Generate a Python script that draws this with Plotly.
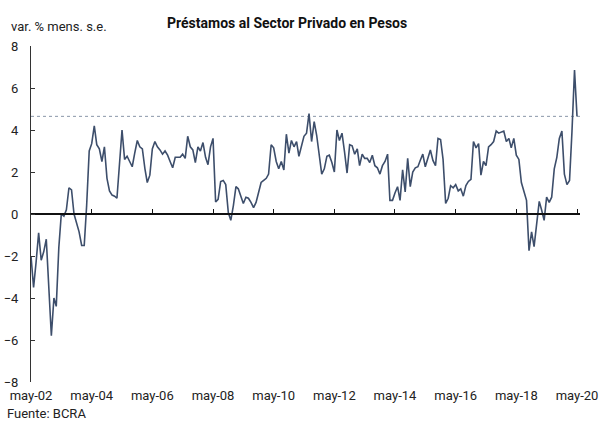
import plotly.graph_objects as go
import pandas as pd

# Monthly % change (s.a.), May-2002 .. May-2020
values = [
    -2.0, -3.5, -2.3, -0.9, -2.2, -1.8, -1.2, -3.4, -5.8, -4.0,
    -4.4, -1.6, 0.0, -0.1, 0.2, 1.25, 1.15, 0.0, -0.4, -0.85,
    -1.5, -1.5, 0.4, 3.0, 3.35, 4.2, 3.3, 3.1, 2.5, 3.2,
    1.7, 1.1, 0.9, 0.85, 0.75, 2.4, 4.0, 2.6, 2.75, 2.5,
    2.25, 2.9, 3.5, 3.2, 3.1, 2.15, 1.5, 1.85, 3.1, 3.45,
    3.2, 3.05, 2.85, 3.0, 2.8, 2.5, 2.2, 2.7, 2.7, 2.7,
    2.85, 2.65, 3.7, 3.2, 3.05, 2.45, 3.2, 3.0, 3.4, 2.7,
    2.35, 3.2, 3.6, 0.57, 0.7, 1.55, 1.6, 1.4, 0.07, -0.3,
    0.4, 1.3, 1.2, 0.8, 0.5, 0.8, 0.75, 0.55, 0.3, 0.55,
    1.05, 1.5, 1.6, 1.7, 1.9, 3.3, 3.15, 2.5, 2.15, 2.5,
    2.1, 3.8, 2.9, 3.5, 3.2, 3.45, 2.75, 3.2, 3.7, 3.85,
    4.78, 3.45, 4.4, 3.75, 2.65, 1.9, 2.15, 2.75, 2.8, 2.45,
    2.0, 4.0, 3.5, 3.85, 2.95, 1.95, 3.3, 3.25, 2.85, 3.1,
    2.3, 2.85, 2.65, 2.65, 2.45, 2.8, 2.3, 2.2, 1.9, 2.3,
    2.5, 2.85, 0.65, 0.65, 1.0, 1.3, 0.65, 2.1, 1.05, 2.65,
    1.3, 2.0, 2.2, 2.25, 2.55, 2.85, 2.25, 2.65, 3.05, 2.55,
    2.3, 3.6, 3.55, 2.6, 0.5, 0.75, 1.35, 1.25, 1.4, 1.1,
    1.2, 0.85, 1.35, 1.55, 1.65, 3.45, 3.15, 3.35, 1.85, 2.5,
    2.3, 3.2, 3.3, 3.45, 3.95, 3.85, 3.9, 3.95, 3.45, 3.6,
    3.15, 3.6, 2.8, 2.6, 1.5, 1.0, 0.65, -1.75, -0.85, -1.55,
    -0.6, 0.6, 0.2, -0.3, 0.8, 0.55, 0.8, 2.15, 2.7, 3.6,
    3.95, 1.9, 1.4, 1.6, 3.9, 6.85, 4.65,
]
dates = pd.date_range("2002-05-01", periods=len(values), freq="MS")

tick_dates = pd.date_range("2002-05-01", "2020-05-01", freq="24MS")
tick_labels = ["may-02", "may-04", "may-06", "may-08", "may-10",
               "may-12", "may-14", "may-16", "may-18", "may-20"]

title = "Préstamos al Sector Privado en Pesos"
y_title = "var. % mens. s.e."
source = "Fuente: BCRA"

FONT = "Roboto, Arial, sans-serif"
LINE = "#3d4e6b"
TXT = "#222222"
xrange = ["2002-05-01", "2020-06-06"]

fig = go.Figure()
# invisible copy on the bottom (label) axis so that axis is drawn
fig.add_trace(go.Scatter(
    x=dates, y=values, mode="lines", xaxis="x", yaxis="y",
    line=dict(color=LINE, width=1.6), opacity=0,
    showlegend=False, hoverinfo="skip",
))
# visible series on the axis that sits at y = 0
fig.add_trace(go.Scatter(
    x=dates, y=values, mode="lines", xaxis="x2", yaxis="y",
    line=dict(color=LINE, width=1.6),
    showlegend=False, hoverinfo="skip",
))

# dotted reference line at last value
fig.add_shape(type="line", xref="paper", x0=0, x1=1, yref="y",
              y0=values[-1], y1=values[-1],
              line=dict(color="#8a97a8", width=1, dash="dot"), layer="below")

fig.update_layout(
    width=601, height=423,
    margin=dict(l=31, r=21, t=46, b=41),
    paper_bgcolor="white", plot_bgcolor="white",
    font=dict(family=FONT, size=13, color=TXT),
    showlegend=False,
    xaxis=dict(
        type="date", range=xrange, automargin=False,
        tickvals=tick_dates, ticktext=tick_labels,
        showline=False, ticks="", showgrid=False, zeroline=False,
        ticklabelstandoff=4,
        tickfont=dict(size=13, color=TXT),
    ),
    xaxis2=dict(
        type="date", range=xrange, overlaying="x", automargin=False,
        anchor="free", position=0.5,
        tickvals=tick_dates, showticklabels=False,
        showline=True, linecolor="#111111", linewidth=1.8,
        ticks="inside", ticklen=4, tickcolor="#111111", tickwidth=1,
        showgrid=False, zeroline=False,
    ),
    yaxis=dict(
        range=[-8, 8], dtick=2, tick0=0, automargin=False,
        showline=True, linecolor="#333333", linewidth=1,
        ticks="inside", ticklen=4, tickcolor="#333333",
        showgrid=False, zeroline=False,
        ticklabelstandoff=9,
        tickfont=dict(size=13, color=TXT),
    ),
    annotations=[
        dict(text="<b>" + title + "</b>", xref="paper", yref="paper",
             x=0.466, y=1.068, xanchor="center", yanchor="middle",
             showarrow=False, font=dict(size=14, color="#111111")),
        dict(text=y_title, xref="paper", yref="paper",
             x=-0.04, y=1.057, xanchor="left", yanchor="middle",
             showarrow=False, font=dict(size=13, color=TXT)),
        dict(text=source, xref="paper", yref="paper",
             x=-0.048, y=-0.093, xanchor="left", yanchor="middle",
             showarrow=False, font=dict(size=13, color=TXT)),
    ],
)

fig.write_html("out.html",
               config={"displayModeBar": False},
               post_script="document.body.style.margin='0';")
